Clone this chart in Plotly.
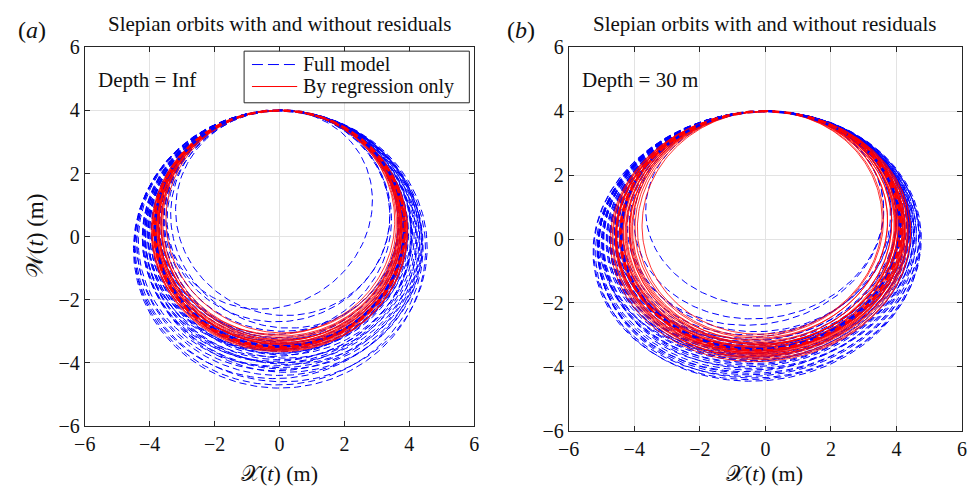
import numpy as np
import plotly.graph_objects as go

# Orbit parameters for each realisation: lowest depth reached (m),
# horizontal half-width (m) and horizontal offset of the lowest point (m).
# Every orbit starts from the crest point (0, 4) and runs anticlockwise.
CREST = 4.0

# Panel (a): depth = Inf
a_blue_ymin = [-2.3, -2.5, -2.7, -2.9, -3.0, -3.1, -3.2, -3.25, -3.3, -3.35,
               -3.4, -3.45, -3.5, -3.5, -3.55, -3.6, -3.6, -3.65, -3.7, -3.7,
               -3.75, -3.8, -3.85, -3.9, -3.95, -4.0, -4.0, -4.05, -4.1, -4.15,
               -4.2, -4.25, -4.3, -4.4, -4.5, -4.6, -4.7, -4.8, -3.4, -3.6]
a_blue_rx = [3.15, 3.3, 3.45, 3.5, 3.6, 3.55, 3.7, 3.65, 3.75, 3.7,
             3.8, 3.75, 3.85, 3.9, 3.8, 3.95, 3.85, 3.9, 4.0, 3.95,
             4.05, 4.0, 4.1, 4.05, 4.15, 4.2, 4.1, 4.2, 4.25, 4.2,
             4.3, 4.35, 4.3, 4.4, 4.4, 4.5, 4.45, 4.5, 3.9, 4.0]
a_blue_shift = [-0.6, 0.2, -0.1, 0.3, 0.1, -0.2, 0.0, 0.15, -0.15, 0.25,
                -0.05, 0.1, 0.0, -0.1, 0.2, -0.2, 0.05, 0.15, -0.1, 0.0,
                0.1, -0.25, 0.2, 0.0, -0.15, 0.1, -0.05, 0.25, -0.2, 0.05,
                0.15, -0.1, 0.2, 0.0, -0.15, 0.1, -0.05, 0.0, 0.3, -0.3]

a_red_ymin = [-3.05, -3.1, -3.15, -3.2, -3.25, -3.28, -3.3, -3.33, -3.36, -3.4,
              -3.42, -3.45, -3.48, -3.5, -3.52, -3.55, -3.58, -3.6, -3.62, -3.65,
              -3.38, -3.44, -3.5, -3.56]
a_red_rx = [3.55, 3.6, 3.62, 3.66, 3.7, 3.68, 3.72, 3.75, 3.74, 3.78,
            3.8, 3.79, 3.82, 3.84, 3.83, 3.86, 3.88, 3.9, 3.89, 3.95,
            3.76, 3.8, 3.85, 3.87]
a_red_shift = [0.1, -0.1, 0.05, 0.0, -0.05, 0.1, 0.0, -0.1, 0.05, 0.0,
               0.1, -0.05, 0.0, 0.05, -0.1, 0.0, 0.1, -0.05, 0.05, 0.0,
               -0.05, 0.1, 0.0, -0.1]

# Panel (b): depth = 30 m
b_blue_ymin = [-2.1, -2.5, -2.7, -2.9, -3.0, -3.1, -3.15, -3.2, -3.25, -3.3,
               -3.35, -3.4, -3.4, -3.45, -3.5, -3.5, -3.55, -3.6, -3.6, -3.65,
               -3.7, -3.7, -3.75, -3.8, -3.8, -3.85, -3.9, -3.95, -4.0, -4.05,
               -4.1, -4.15, -4.2, -4.25, -4.3, -4.35, -4.4, -4.45, -3.3, -3.6]
b_blue_rx = [3.6, 3.8, 3.9, 4.0, 4.1, 4.15, 4.2, 4.25, 4.3, 4.3,
             4.35, 4.4, 4.45, 4.4, 4.5, 4.45, 4.5, 4.55, 4.5, 4.6,
             4.6, 4.55, 4.65, 4.7, 4.6, 4.7, 4.75, 4.7, 4.8, 4.75,
             4.85, 4.8, 4.9, 4.85, 4.95, 4.9, 5.0, 4.95, 4.5, 4.7]
b_blue_shift = [-0.1, -0.4, -0.6, -0.3, -0.5, -0.7, -0.4, -0.55, -0.35, -0.6,
                -0.45, -0.5, -0.3, -0.65, -0.4, -0.55, -0.5, -0.35, -0.6, -0.45,
                -0.5, -0.4, -0.55, -0.5, -0.3, -0.6, -0.45, -0.5, -0.55, -0.4,
                -0.5, -0.6, -0.45, -0.5, -0.55, -0.4, -0.5, -0.45, -0.2, -0.7]
b_blue_turns = [0.54] + [1.0] * 39

b_red_ymin = [-2.98, -3.05, -3.1, -3.15, -3.2, -3.25, -3.28, -3.3, -3.35, -3.38,
              -3.4, -3.42, -3.45, -3.48, -3.5, -3.52, -3.55, -3.58, -3.6, -3.62,
              -3.65, -3.68, -3.7, -3.74, -3.78, -3.84, -3.36, -3.46, -3.56, -3.3]
b_red_rx = [3.66, 3.75, 3.85, 3.9, 3.95, 4.0, 4.05, 4.1, 4.1, 4.15,
            4.2, 4.2, 4.25, 4.3, 4.25, 4.3, 4.35, 4.3, 4.4, 4.35,
            4.45, 4.4, 4.5, 4.45, 4.55, 4.58, 4.2, 4.3, 4.4, 4.05]
b_red_shift = [-0.2, -0.3, -0.25, -0.35, -0.2, -0.3, -0.15, -0.25, -0.35, -0.2,
               -0.3, -0.25, -0.4, -0.2, -0.3, -0.25, -0.35, -0.2, -0.3, -0.15,
               -0.25, -0.35, -0.3, -0.2, -0.25, -0.3, -0.4, -0.1, -0.3, -0.2]

# Ensemble-mean orbits (drawn bold)
a_mean = dict(ymin=-3.48, rx=3.84, shift=0.0)
b_mean = dict(ymin=-3.45, rx=4.25, shift=-0.3)

TICKS = [-6, -4, -2, 0, 2, 4, 6]
SERIES_NAMES = ["Full model", "By regression only"]
SERIF = "'Liberation Serif', 'Times New Roman', Times, serif"
INK = "#111111"
BLUE = "#0000ff"
RED = "#ff0000"


def orbit(ymin, rx, shift, turns=1.0, n=240):
    th = np.linspace(0.0, 2 * np.pi * turns, int(n * turns) + 2)
    yc = 0.5 * (CREST + ymin)
    ry = 0.5 * (CREST - ymin)
    x = -rx * np.sin(th) + shift * 0.5 * (1 - np.cos(th))
    y = yc + ry * np.cos(th)
    return x, y


def ensemble(ymins, rxs, shifts, turns=None):
    xs, ys = [], []
    for i, (ym, rx, sh) in enumerate(zip(ymins, rxs, shifts)):
        t = 1.0 if turns is None else turns[i]
        x, y = orbit(ym, rx, sh, t)
        xs.extend(x.tolist() + [None])
        ys.extend(y.tolist() + [None])
    return xs, ys


fig = go.Figure()

panels = [
    ("x", "y", a_blue_ymin, a_blue_rx, a_blue_shift, None,
     a_red_ymin, a_red_rx, a_red_shift, a_mean),
    ("x2", "y2", b_blue_ymin, b_blue_rx, b_blue_shift, b_blue_turns,
     b_red_ymin, b_red_rx, b_red_shift, b_mean),
]

for (xa, ya, bym, brx, bsh, btu, rym, rrx, rsh, mean) in panels:
    bx, by = ensemble(bym, brx, bsh, btu)
    fig.add_trace(go.Scatter(x=bx, y=by, mode="lines", xaxis=xa, yaxis=ya,
                             line=dict(color=BLUE, width=1, dash="7px,4px"),
                             name=SERIES_NAMES[0], showlegend=False,
                             connectgaps=False, hoverinfo="skip"))
    rx_, ry_ = ensemble(rym, rrx, rsh)
    fig.add_trace(go.Scatter(x=rx_, y=ry_, mode="lines", xaxis=xa, yaxis=ya,
                             line=dict(color=RED, width=0.8),
                             name=SERIES_NAMES[1], showlegend=False,
                             connectgaps=False, hoverinfo="skip"))
    mx, my = orbit(mean["ymin"], mean["rx"], mean["shift"])
    fig.add_trace(go.Scatter(x=mx, y=my, mode="lines", xaxis=xa, yaxis=ya,
                             line=dict(color=BLUE, width=2.6, dash="7px,4px"),
                             showlegend=False, hoverinfo="skip"))
    mx, my = orbit(mean["ymin"] - 0.04, mean["rx"] + 0.03, mean["shift"])
    fig.add_trace(go.Scatter(x=mx, y=my, mode="lines", xaxis=xa, yaxis=ya,
                             line=dict(color=RED, width=2.6, dash="7px,5px"),
                             showlegend=False, hoverinfo="skip"))

axis_style = dict(range=[-6, 6], tickvals=TICKS, ticks="inside", ticklen=5,
                  tickwidth=1, tickcolor="#262626", showline=True,
                  linecolor="#262626", linewidth=1, mirror="ticks",
                  showgrid=True, gridcolor="#e3e3e3", gridwidth=1,
                  zeroline=False, fixedrange=True,
                  tickfont=dict(family=SERIF, size=20, color=INK))

W, H = 972, 501
ax_px = [(75, 471, 38, 434), (567, 967, 38, 439)]


def px(x):
    return x / W


def py(y):
    return 1 - y / H


def dom(b):
    x0, x1, y0, y1 = b
    return [px(x0), px(x1)], [py(y1), py(y0)]


xd1, yd1 = dom(ax_px[0])
xd2, yd2 = dom(ax_px[1])

fig.update_layout(
    width=W, height=H, margin=dict(l=0, r=0, t=0, b=0),
    paper_bgcolor="white", plot_bgcolor="white", showlegend=False,
    xaxis=dict(domain=xd1, anchor="y", **axis_style),
    yaxis=dict(domain=yd1, anchor="x", **axis_style),
    xaxis2=dict(domain=xd2, anchor="y2", **axis_style),
    yaxis2=dict(domain=yd2, anchor="x2", **axis_style),
    font=dict(family=SERIF, color=INK),
)

# Legend box for panel (a)
shapes = [
    dict(type="rect", xref="paper", yref="paper", x0=px(237), x1=px(466),
         y0=py(96), y1=py(42), line=dict(color="#262626", width=1),
         fillcolor="white", layer="above"),
    dict(type="line", xref="paper", yref="paper", x0=px(245), x1=px(291),
         y0=py(56), y1=py(56), line=dict(color=BLUE, width=1, dash="11px,5px"),
         layer="above"),
    dict(type="line", xref="paper", yref="paper", x0=px(245), x1=px(291),
         y0=py(79), y1=py(79), line=dict(color=RED, width=1), layer="above"),
]

ann = []
for name, yy in zip(SERIES_NAMES, (55, 79)):
    ann.append(dict(text=name, x=px(296), y=py(yy), xref="paper",
                    yref="paper", showarrow=False, xanchor="left",
                    yanchor="middle", borderpad=0,
                    font=dict(family=SERIF, size=20)))
title = "Slepian orbits with and without residuals"
for cx in (273, 767):
    ann.append(dict(text=title, x=px(cx), y=py(14), xref="paper",
                    yref="paper", showarrow=False, xanchor="center",
                    yanchor="middle", font=dict(family=SERIF, size=21)))
for cx, lab in [(21, "(<i>a</i>)"), (519, "(<i>b</i>)")]:
    ann.append(dict(text=lab, x=px(cx), y=py(20), xref="paper",
                    yref="paper", showarrow=False, xanchor="center",
                    yanchor="middle", font=dict(family=SERIF, size=24)))
for cx in (273, 766):
    ann.append(dict(text="𝒳(<i>t</i>) (m)", x=px(cx), y=py(484),
                    xref="paper", yref="paper", showarrow=False,
                    xanchor="center", yanchor="middle",
                    font=dict(family=SERIF, size=22)))
ann.append(dict(text="𝒲(<i>t</i>) (m)", x=px(25), y=py(235),
                xref="paper", yref="paper", showarrow=False, textangle=-90,
                xanchor="center", yanchor="middle",
                font=dict(family=SERIF, size=23)))
ann.append(dict(text="Depth = Inf", x=-5.65, y=4.97, xref="x", yref="y",
                showarrow=False, xanchor="left", yanchor="middle",
                font=dict(family=SERIF, size=21)))
ann.append(dict(text="Depth = 30 m", x=-5.65, y=4.97, xref="x2", yref="y2",
                showarrow=False, xanchor="left", yanchor="middle",
                font=dict(family=SERIF, size=21)))
fig.update_layout(annotations=ann, shapes=shapes)

fig.write_html("out.html",
               post_script="document.body.style.margin='0';"
                           "document.body.style.padding='0';")
